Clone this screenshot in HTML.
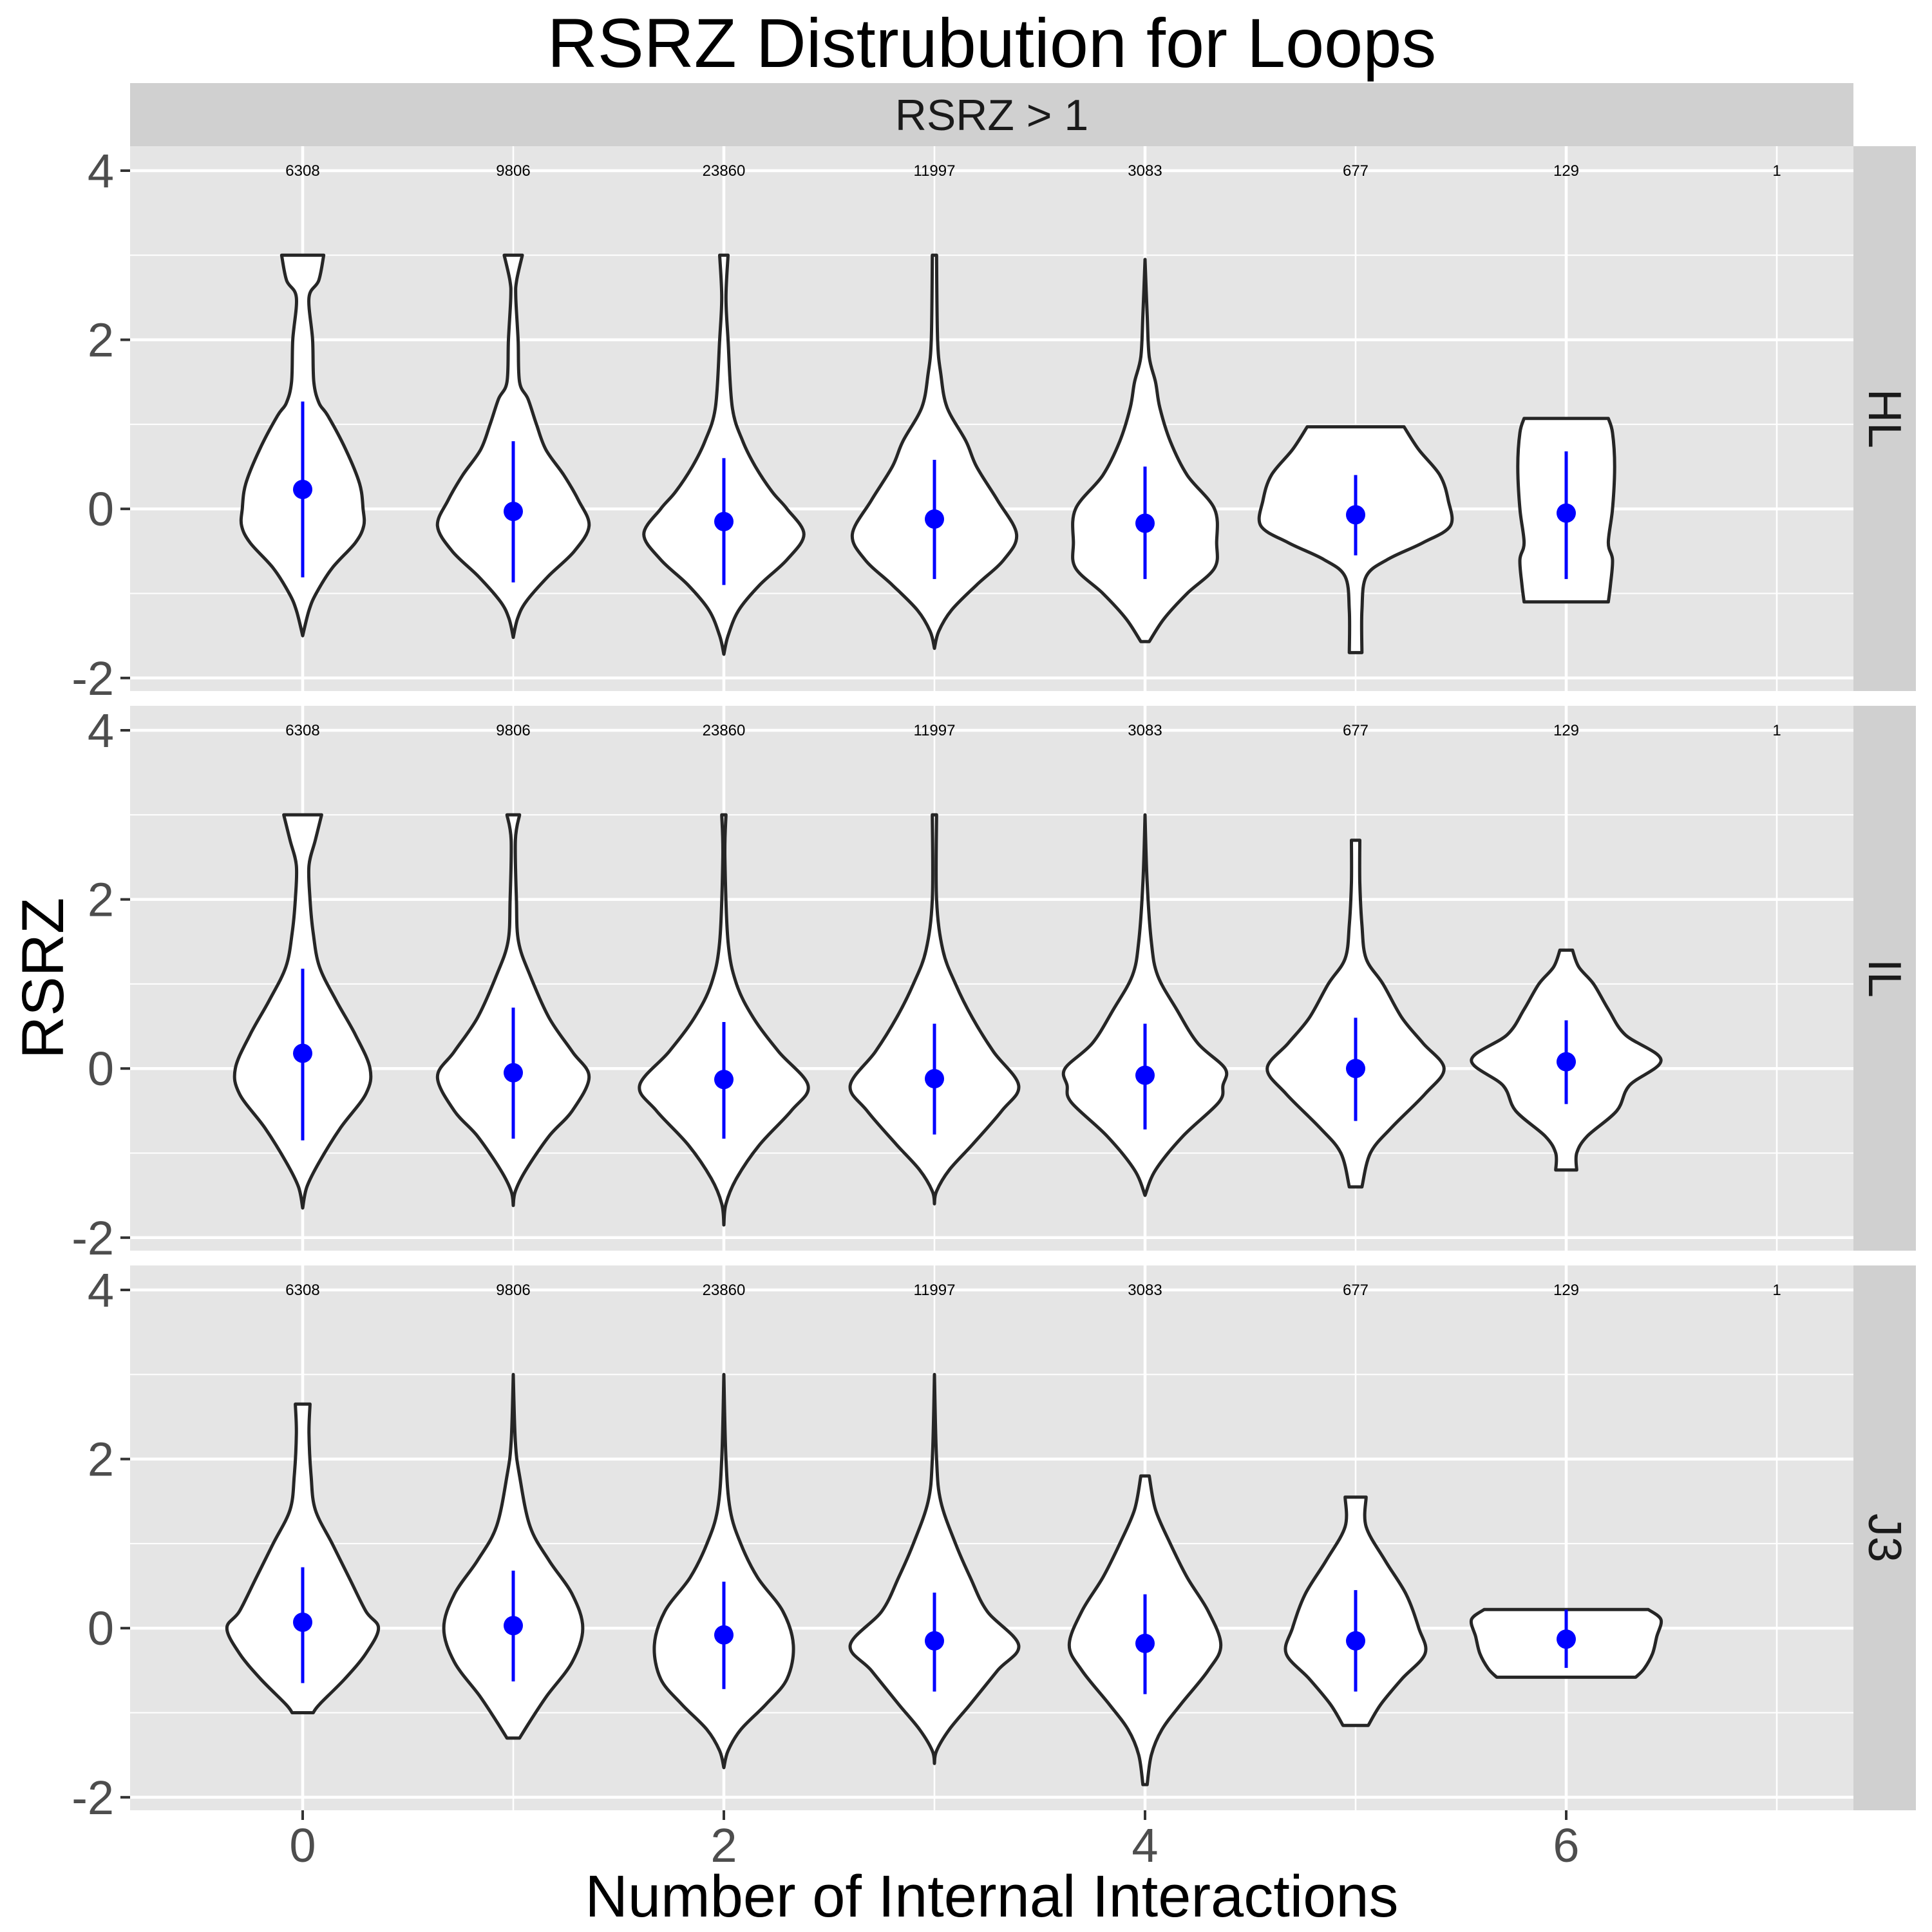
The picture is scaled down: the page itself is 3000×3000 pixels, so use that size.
<!DOCTYPE html>
<html><head><meta charset="utf-8"><style>
html,body{margin:0;padding:0;background:#fff;}
svg{display:block;font-family:"Liberation Sans",Arial,sans-serif;}
</style></head><body>
<svg id="chart" width="3000" height="3000" viewBox="0 0 3000 3000" xmlns="http://www.w3.org/2000/svg">
<rect x="0" y="0" width="3000" height="3000" fill="#fff"/>
<text x="1540" y="104" font-size="108" text-anchor="middle" fill="#000">RSRZ Distrubution for Loops</text>
<rect x="202" y="129" width="2676" height="98" fill="#d0d0d0"/>
<text x="1540" y="202" font-size="68" text-anchor="middle" fill="#1a1a1a">RSRZ &gt; 1</text>
<g id="panels"></g>
<text x="1540" y="2976" font-size="92" text-anchor="middle" fill="#000">Number of Internal Interactions</text>
<text transform="translate(98,1519) rotate(-90)" font-size="92" text-anchor="middle" fill="#000">RSRZ</text>
</svg>
<script>
const panelNames = ["HL","IL","J3"];
const xCategories = [0,1,2,3,4,5,6,7];
const counts = ["6308","9806","23860","11997","3083","677","129","1"];
const yTicks = [-2,0,2,4];
const yMinor = [-1,1,3];
const xTicks = [0,2,4,6];
const xMinor = [1,3,5,7];
// violin profiles: [y, halfwidth in x units]
const hlViolins = [
 [[3.0,0.10],[2.7,0.076],[2.5,0.03],[2.0,0.047],[1.5,0.053],[1.25,0.078],[1.1,0.12],[0.7,0.205],[0.3,0.27],[0,0.287],[-0.2,0.29],[-0.4,0.25],[-0.7,0.14],[-1.0,0.064],[-1.2,0.03],[-1.5,0.0]],
 [[3.0,0.043],[2.7,0.016],[2.5,0.012],[2.0,0.023],[1.5,0.03],[1.3,0.07],[1.0,0.11],[0.7,0.155],[0.4,0.24],[0.1,0.31],[-0.2,0.36],[-0.5,0.29],[-0.8,0.165],[-1.1,0.06],[-1.3,0.02],[-1.52,0]],
 [[3.0,0.02],[2.5,0.01],[2.0,0.02],[1.2,0.04],[0.8,0.09],[0.5,0.15],[0.2,0.23],[0,0.3],[-0.3,0.38],[-0.6,0.3],[-0.9,0.17],[-1.2,0.07],[-1.5,0.02],[-1.72,0]],
 [[3.0,0.01],[2.0,0.015],[1.6,0.03],[1.2,0.06],[0.8,0.15],[0.5,0.2],[0.1,0.3],[-0.3,0.39],[-0.6,0.33],[-0.9,0.2],[-1.2,0.08],[-1.45,0.02],[-1.65,0]],
 [[2.95,0],[2.3,0.01],[1.8,0.02],[1.5,0.05],[1.2,0.07],[0.8,0.12],[0.4,0.2],[0,0.33],[-0.4,0.34],[-0.7,0.33],[-1.0,0.2],[-1.3,0.09],[-1.57,0.02]],
 [[0.97,0.23],[0.7,0.3],[0.4,0.4],[0.1,0.44],[-0.2,0.45],[-0.4,0.32],[-0.6,0.15],[-0.8,0.05],[-1.2,0.03],[-1.7,0.03]],
 [[1.07,0.2],[0.9,0.22],[0.5,0.23],[0,0.22],[-0.4,0.2],[-0.6,0.22],[-0.9,0.21],[-1.1,0.2]]
];
const ilViolins = [
 [[3.0,0.09],[2.7,0.06],[2.4,0.03],[2.0,0.035],[1.6,0.05],[1.2,0.08],[0.8,0.16],[0.4,0.25],[0,0.32],[-0.3,0.3],[-0.7,0.18],[-1.1,0.08],[-1.4,0.02],[-1.65,0]],
 [[3.0,0.03],[2.7,0.01],[2.0,0.015],[1.5,0.025],[1.1,0.08],[0.6,0.17],[0.2,0.28],[-0.1,0.36],[-0.5,0.28],[-0.8,0.17],[-1.2,0.06],[-1.45,0.01],[-1.62,0]],
 [[3.0,0.01],[2.5,0.005],[1.5,0.02],[1.0,0.06],[0.6,0.14],[0.2,0.26],[-0.2,0.4],[-0.5,0.32],[-0.9,0.17],[-1.3,0.06],[-1.6,0.01],[-1.85,0]],
 [[3.0,0.01],[2.0,0.01],[1.4,0.04],[1.0,0.1],[0.6,0.18],[0.2,0.28],[-0.2,0.4],[-0.5,0.32],[-0.9,0.18],[-1.2,0.07],[-1.45,0.01],[-1.6,0]],
 [[3.0,0],[2.2,0.01],[1.5,0.03],[1.1,0.06],[0.7,0.15],[0.3,0.25],[0,0.38],[-0.2,0.37],[-0.4,0.35],[-0.8,0.18],[-1.2,0.05],[-1.5,0]],
 [[2.7,0.02],[2.2,0.02],[1.7,0.03],[1.3,0.05],[1.0,0.13],[0.6,0.22],[0.3,0.32],[0,0.42],[-0.3,0.33],[-0.7,0.17],[-1.0,0.07],[-1.4,0.03]],
 [[1.4,0.03],[1.2,0.06],[1.0,0.13],[0.7,0.2],[0.4,0.28],[0.1,0.45],[-0.2,0.3],[-0.5,0.24],[-0.8,0.1],[-1.0,0.05],[-1.2,0.05]]
];
const j3Violins = [
 [[2.65,0.035],[2.3,0.03],[1.8,0.04],[1.4,0.06],[1.0,0.14],[0.6,0.22],[0.2,0.3],[0,0.36],[-0.3,0.3],[-0.6,0.2],[-0.9,0.08],[-1.0,0.05]],
 [[3.0,0],[2.2,0.01],[1.8,0.03],[1.2,0.08],[0.8,0.17],[0.4,0.28],[0,0.33],[-0.4,0.28],[-0.8,0.16],[-1.1,0.08],[-1.3,0.03]],
 [[3.0,0],[2.0,0.01],[1.4,0.03],[1.0,0.08],[0.6,0.16],[0.2,0.28],[-0.2,0.33],[-0.6,0.3],[-0.9,0.2],[-1.2,0.08],[-1.45,0.02],[-1.65,0]],
 [[3.0,0],[2.0,0.01],[1.5,0.03],[1.0,0.1],[0.6,0.17],[0.2,0.25],[-0.2,0.4],[-0.5,0.3],[-0.9,0.17],[-1.2,0.07],[-1.45,0.01],[-1.6,0]],
 [[1.8,0.02],[1.4,0.05],[1.0,0.12],[0.6,0.2],[0.2,0.3],[-0.2,0.36],[-0.5,0.3],[-0.9,0.17],[-1.2,0.08],[-1.5,0.03],[-1.85,0.01]],
 [[1.55,0.05],[1.2,0.05],[0.8,0.14],[0.4,0.24],[0,0.3],[-0.3,0.33],[-0.6,0.22],[-0.9,0.12],[-1.15,0.06]],
 [[0.22,0.39],[0.1,0.45],[-0.1,0.43],[-0.3,0.41],[-0.48,0.37],[-0.58,0.33]]
];
const hlMeans = [0.23,-0.03,-0.15,-0.12,-0.17,-0.07,-0.05];
const hlLow = [-0.81,-0.87,-0.9,-0.83,-0.83,-0.55,-0.83];
const hlHigh = [1.27,0.8,0.6,0.58,0.5,0.4,0.68];
const ilMeans = [0.18,-0.05,-0.13,-0.12,-0.08,0,0.08];
const ilLow = [-0.85,-0.83,-0.83,-0.78,-0.72,-0.62,-0.42];
const ilHigh = [1.18,0.72,0.55,0.53,0.53,0.6,0.57];
const j3Means = [0.07,0.03,-0.08,-0.15,-0.18,-0.15,-0.13];
const j3Low = [-0.65,-0.63,-0.72,-0.75,-0.78,-0.75,-0.47];
const j3High = [0.72,0.68,0.55,0.42,0.4,0.45,0.22];

const panelViolins=[hlViolins,ilViolins,j3Violins];
const panelMeans=[hlMeans,ilMeans,j3Means];
const panelLow=[hlLow,ilLow,j3Low];
const panelHigh=[hlHigh,ilHigh,j3High];

const NS="http://www.w3.org/2000/svg";
const L=202,R=2878,PH=846,TOP0=227,STEP=869;
const X0=470,XU=327,YU=131.3;
function xs(v){return X0+v*XU;}
function mk(t,a,p){const e=document.createElementNS(NS,t);for(const k in a)e.setAttribute(k,a[k]);p.appendChild(e);return e;}
function smooth(pts){
  let d="M"+pts[0][0].toFixed(1)+","+pts[0][1].toFixed(1);
  for(let i=0;i<pts.length-1;i++){
    const p0=pts[Math.max(i-1,0)],p1=pts[i],p2=pts[i+1],p3=pts[Math.min(i+2,pts.length-1)];
    const c1x=p1[0]+(p2[0]-p0[0])/6,c1y=p1[1]+(p2[1]-p0[1])/6;
    const c2x=p2[0]-(p3[0]-p1[0])/6,c2y=p2[1]-(p3[1]-p1[1])/6;
    d+=" C"+c1x.toFixed(1)+","+c1y.toFixed(1)+" "+c2x.toFixed(1)+","+c2y.toFixed(1)+" "+p2[0].toFixed(1)+","+p2[1].toFixed(1);
  }
  return d;
}
const root=document.getElementById('panels');
panelNames.forEach((pn,pi)=>{
  const top=TOP0+pi*STEP;
  const y0=top+38+4*YU;
  const ys=v=>y0-v*YU;
  const g=mk('g',{},root);
  
  
  const bg=mk('rect',{x:L,y:top,width:R-L,height:PH,fill:'#e5e5e5'},g);
  
  
  yMinor.forEach(v=>{const l=mk('line',{x1:L,x2:R,y1:ys(v),y2:ys(v),stroke:'#fff','stroke-width':2},g);
    });
  xMinor.forEach(v=>{const l=mk('line',{x1:xs(v),x2:xs(v),y1:top,y2:top+PH,stroke:'#fff','stroke-width':2.5},g);
    });
  yTicks.forEach(v=>{const l=mk('line',{x1:L,x2:R,y1:ys(v),y2:ys(v),stroke:'#fff','stroke-width':4.5},g);
    
    const t=mk('line',{x1:L-15,x2:L,y1:ys(v),y2:ys(v),stroke:'#333','stroke-width':4},g);
    
    const tx=mk('text',{x:L-25,y:ys(v)+26,'font-size':74,'text-anchor':'end',fill:'#4d4d4d'},g);
    tx.textContent=String(v);
    });
  xTicks.forEach(v=>{const l=mk('line',{x1:xs(v),x2:xs(v),y1:top,y2:top+PH,stroke:'#fff','stroke-width':4.5},g);
    });
  const st=mk('rect',{x:R,y:top,width:97,height:PH,fill:'#d0d0d0'},g);
  
  const stt=mk('text',{transform:'translate('+(R+24)+','+(top+PH/2)+') rotate(90)','font-size':72,'text-anchor':'middle',fill:'#1a1a1a'},g);
  stt.textContent=pn;
  
  xCategories.forEach((c,i)=>{const t=mk('text',{x:xs(c),y:ys(4)+8,'font-size':24,'text-anchor':'middle',fill:'#000'},g);
    t.textContent=counts[i];
    });
  panelViolins[pi].forEach((prof,vi)=>{
    const cx=xs(xCategories[vi]);
    const right=prof.map(p=>[cx+p[1]*XU,ys(p[0])]);
    const left=prof.slice().reverse().map(p=>[cx-p[1]*XU,ys(p[0])]);
    let d=smooth(right);
    d+=" L"+left[0][0].toFixed(1)+","+left[0][1].toFixed(1)+smooth(left).replace(/^M[^ ]+/,'')+" Z";
    const v=mk('path',{d:d,fill:'#fff',stroke:'#262626','stroke-width':5,'stroke-linejoin':'round'},g);
    
    
    const ln=mk('line',{x1:cx,x2:cx,y1:ys(panelHigh[pi][vi]),y2:ys(panelLow[pi][vi]),stroke:'#0000ff','stroke-width':5},g);
    
    const dot=mk('ellipse',{cx:cx,cy:ys(panelMeans[pi][vi]),rx:15,ry:15,fill:'#0000ff'},g);
    
  });
  if(pi===2){
    xTicks.forEach(v=>{const t=mk('line',{x1:xs(v),x2:xs(v),y1:top+PH,y2:top+PH+15,stroke:'#333','stroke-width':4},g);
      
      const tx=mk('text',{x:xs(v),y:top+PH+80,'font-size':74,'text-anchor':'middle',fill:'#4d4d4d'},g);
      tx.textContent=String(v);
      });
  }
});
</script>
</body></html>
